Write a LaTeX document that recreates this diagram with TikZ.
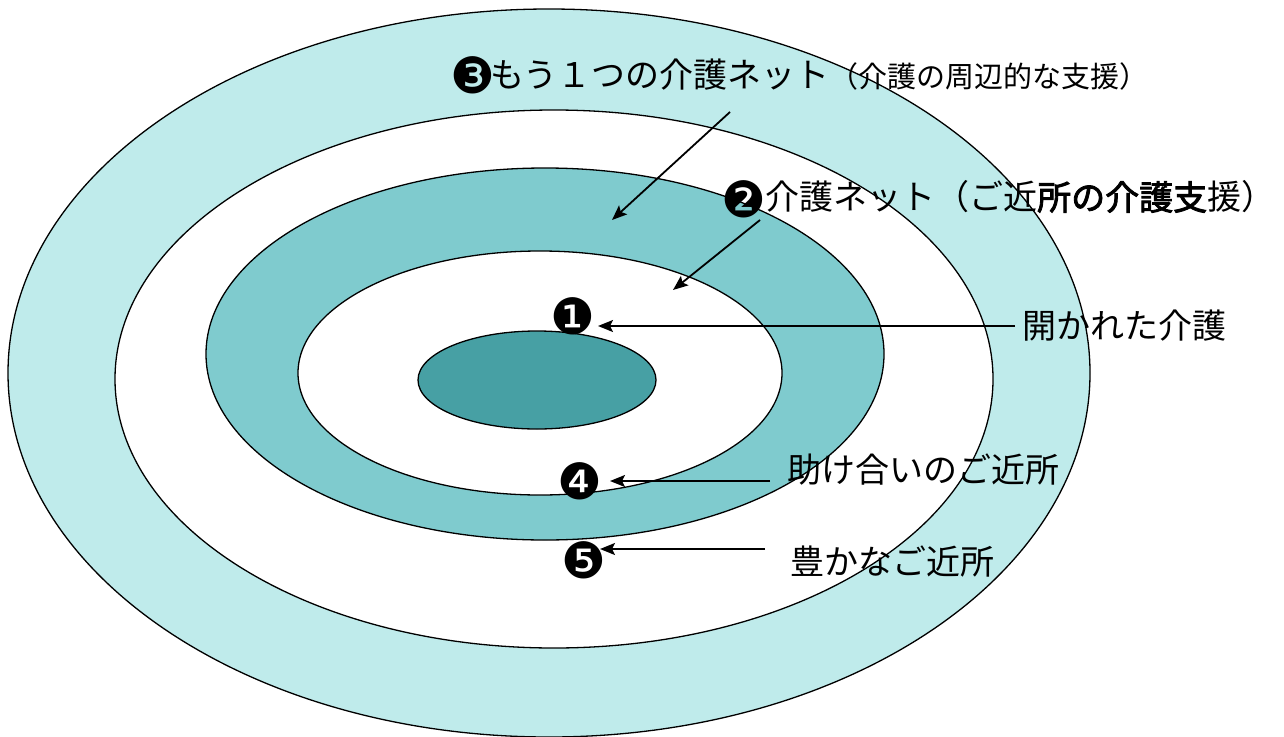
\documentclass[tikz,border=0pt]{standalone}
\usepackage{fontspec}
\newfontfamily\jp{Noto Sans CJK JP}
\newfontfamily\jpb[FakeBold=2.5]{Noto Sans CJK JP}
\newfontfamily\dv{DejaVu Sans}
\usetikzlibrary{arrows.meta}
\definecolor{ringlight}{HTML}{BFEBEB}
\definecolor{ringmid}{HTML}{7FCBCE}
\definecolor{ringdark}{HTML}{47A0A4}
\tikzset{
  ring/.style={draw=black, line width=1.3pt},
  lbl/.style={anchor=west, inner sep=0pt, font=\jp\fontsize{34}{40}\selectfont},
  num/.style={inner sep=0pt, font=\dv\fontsize{50}{56}\selectfont},
  arr/.style={line width=1.8pt, -{Stealth[length=15pt,width=12pt,inset=3pt]}}
}
\begin{document}
\begin{tikzpicture}[x=1pt,y=-1pt]
\useasboundingbox (0,0) rectangle (1284,736);
\fill[white] (0,0) rectangle (1284,736);
% rings
\draw[ring, fill=ringlight] (549,373) ellipse [x radius=541, y radius=364];
\draw[ring, fill=white] (554,379) ellipse [x radius=439, y radius=269];
\draw[ring, fill=ringmid] (545,354) ellipse [x radius=339, y radius=186];
\draw[ring, fill=white] (540,373) ellipse [x radius=242, y radius=122];
\draw[ring, fill=ringdark] (537,380) ellipse [x radius=119, y radius=49];
% labels
\node[num] (n3) at (473,75) {❸};
\node[lbl] (t3) at (490,75) {もう１つの介護ネット{\fontsize{29}{32}\selectfont （介護の周辺的な支援）}};
\node[num] (n2) at (744,199) {❷};
\node[lbl] (t2) at (765,197) {介護ネット（ご近{\jpb 所の介護支}援）};
\node[num] (n1) at (573,316) {❶};
\node[lbl] (t1) at (1022,326) {開かれた介護};
\node[num] (n4) at (580,481) {❹};
\node[lbl] (t4) at (787,470) {助け合いのご近所};
\node[num] (n5) at (584,560) {❺};
\node[lbl] (t5) at (790,562) {豊かなご近所};
% arrow endpoints
\coordinate (s3) at (730,112);
\coordinate (e3) at (612,220);
\coordinate (s2) at (760,220);
\coordinate (e2) at (673,290);
\coordinate (s1) at (1015,326);
\coordinate (e1) at (598,326);
\coordinate (s4) at (770,481);
\coordinate (e4) at (610,481);
\coordinate (s5) at (765,549);
\coordinate (e5) at (600,549);
\draw[arr] (s3) -- (e3);
\draw[arr] (s2) -- (e2);
\draw[arr] (s1) -- (e1);
\draw[arr] (s4) -- (e4);
\draw[arr] (s5) -- (e5);
\end{tikzpicture}
\end{document}
